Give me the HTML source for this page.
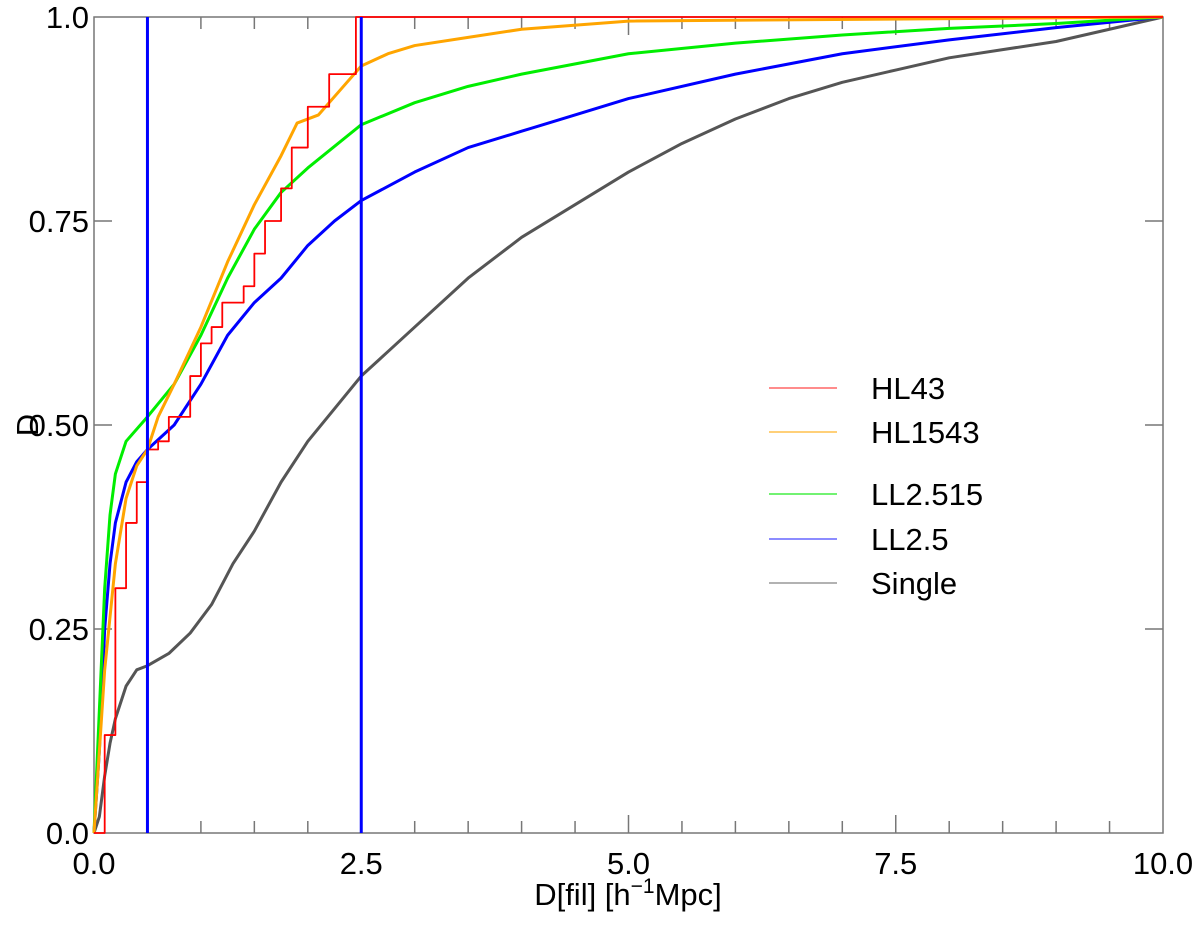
<!DOCTYPE html>
<html><head><meta charset="utf-8"><style>
body{margin:0;background:#fff}
svg{display:block;font-family:"Liberation Sans",sans-serif}
</style></head><body>
<svg id="chart" width="1200" height="927" viewBox="0 0 1200 927" xmlns="http://www.w3.org/2000/svg">
<g id="grid"></g>
<g id="series"></g>
<g id="legend"></g>
</svg>
<script>
const xTicks=[0,2.5,5,7.5,10];
const xTickLabels=["0.0","2.5","5.0","7.5","10.0"];
const yTicks=[0,0.25,0.5,0.75,1];
const yTickLabels=["0.0","0.25","0.50","0.75","1.0"];
const vlines=[0.5,2.5];
const hl43X=[0,0.1,0.2,0.3,0.4,0.5,0.6,0.7,0.9,1.0,1.1,1.2,1.4,1.5,1.6,1.75,1.85,2.0,2.2,2.45,10];
const hl43Y=[0,0.12,0.3,0.38,0.43,0.47,0.48,0.51,0.56,0.6,0.62,0.65,0.67,0.71,0.75,0.79,0.84,0.89,0.93,1.0,1.0];
const hl1543X=[0,0.1,0.2,0.3,0.4,0.5,0.6,0.75,1.0,1.25,1.5,1.75,1.9,2.1,2.3,2.5,2.75,3.0,3.5,4,5,10];
const hl1543Y=[0,0.2,0.33,0.41,0.45,0.47,0.51,0.55,0.62,0.7,0.77,0.83,0.87,0.88,0.91,0.94,0.955,0.965,0.975,0.985,0.995,1];
const ll2515X=[0,0.05,0.1,0.15,0.2,0.3,0.5,0.75,1.0,1.25,1.5,1.75,2.0,2.5,3.0,3.5,4.0,5.0,6.0,7.0,8.0,9.0,10];
const ll2515Y=[0,0.15,0.3,0.39,0.44,0.48,0.51,0.55,0.61,0.68,0.74,0.785,0.815,0.868,0.895,0.915,0.93,0.955,0.968,0.978,0.986,0.992,1];
const ll25X=[0,0.05,0.1,0.15,0.2,0.3,0.4,0.5,0.75,1.0,1.25,1.5,1.75,2.0,2.25,2.5,3.0,3.5,4.0,4.5,5.0,6.0,7.0,8.0,9.0,10];
const ll25Y=[0,0.1,0.25,0.33,0.38,0.43,0.455,0.47,0.5,0.55,0.61,0.65,0.68,0.72,0.75,0.775,0.81,0.84,0.86,0.88,0.9,0.93,0.955,0.972,0.987,1];
const singleX=[0,0.05,0.1,0.15,0.2,0.3,0.4,0.5,0.7,0.9,1.1,1.3,1.5,1.75,2.0,2.25,2.5,2.75,3.0,3.5,4.0,4.5,5.0,5.5,6.0,6.5,7.0,7.5,8.0,8.5,9.0,9.5,10];
const singleY=[0,0.02,0.07,0.11,0.14,0.18,0.2,0.205,0.22,0.245,0.28,0.33,0.37,0.43,0.48,0.52,0.56,0.59,0.62,0.68,0.73,0.77,0.81,0.845,0.875,0.9,0.92,0.935,0.95,0.96,0.97,0.985,1];
const legendLabels=["HL43","HL1543","LL2.515","LL2.5","Single"];

const NS="http://www.w3.org/2000/svg";
const X0=94,X1=1163,Y0=833,Y1=17;
const sx=v=>X0+(X1-X0)*v/10;
const sy=v=>Y0-(Y0-Y1)*v;
function mk(tag,attrs,parent){const e=document.createElementNS(NS,tag);for(const k in attrs)e.setAttribute(k,attrs[k]);parent.appendChild(e);return e;}
const grid=document.getElementById('grid'),series=document.getElementById('series'),legend=document.getElementById('legend');

const frame=mk('rect',{x:X0,y:Y1,width:X1-X0,height:Y0-Y1,fill:'none',stroke:'#777','stroke-width':1.5},grid);


for(let i=1;i<20;i++){const v=i*0.5;
 const t=mk('line',{x1:sx(v),x2:sx(v),y1:Y0,y2:Y0-(i%5==0?18:12),stroke:'#777','stroke-width':1.5},grid);
 
 
 const t2=mk('line',{x1:sx(v),x2:sx(v),y1:Y1,y2:Y1+(i%5==0?18:12),stroke:'#777','stroke-width':1.5},grid);
 
 
}
xTicks.forEach((v,i)=>{
 const t=mk('text',{x:sx(v),y:874,'text-anchor':'middle','font-size':31},grid);t.textContent=xTickLabels[i];
 
 
});
yTicks.forEach((v,i)=>{
 if(v>0&&v<1){
  const a=mk('line',{x1:X0,x2:X0+18,y1:sy(v),y2:sy(v),stroke:'#777','stroke-width':1.5},grid);
  
  
  const b=mk('line',{x1:X1,x2:X1-18,y1:sy(v),y2:sy(v),stroke:'#777','stroke-width':1.5},grid);
  
  
 }
 const t=mk('text',{x:89,y:sy(v)+11,'text-anchor':'end','font-size':31},grid);t.textContent=yTickLabels[i];
 
 
});
const xt=mk('text',{x:628,y:905,'text-anchor':'middle','font-size':31},grid);
xt.innerHTML='D[fil] [h<tspan dy="-12" font-size="21">−1</tspan><tspan dy="12">Mpc]</tspan>';


const yt=mk('text',{x:0,y:0,'text-anchor':'middle','font-size':31,transform:'translate(38,425) rotate(-90)'},grid);
yt.textContent='D';



function pathFor(xs,ys,step){let d='M'+sx(xs[0])+' '+sy(ys[0]);
 for(let i=1;i<xs.length;i++){ if(step)d+=' L'+sx(xs[i])+' '+sy(ys[i-1]); d+=' L'+sx(xs[i])+' '+sy(ys[i]);} return d;}
const defs=[
 ['single-line',singleX,singleY,'#555',3,false],
 ['ll2-5-line',ll25X,ll25Y,'#0000ff',3,false],
 ['ll2-515-line',ll2515X,ll2515Y,'#00ee00',3,false],
 ['hl1543-line',hl1543X,hl1543Y,'#ffa500',3,false],
 ['hl43-line',hl43X,hl43Y,'#ff0000',1.8,true]
];
defs.forEach(d=>{
 const p=mk('path',{d:pathFor(d[1],d[2],d[5]),fill:'none',stroke:d[3],'stroke-width':d[4],'stroke-linejoin':'round'},series);
 
 
});
vlines.forEach(v=>{
 const l=mk('line',{x1:sx(v),x2:sx(v),y1:Y1,y2:Y0,stroke:'#0000ff','stroke-width':3},series);
 
 
});
const legColors=['#ff6666','#ffc04d','#44ee44','#6666ff','#999'];
const legY=[388,432,494,539,583];
legendLabels.forEach((s,i)=>{
 const l=mk('line',{x1:769,x2:837,y1:legY[i],y2:legY[i],stroke:legColors[i],'stroke-width':1.5},legend);
 
 
 const t=mk('text',{x:871,y:legY[i]+11,'font-size':31},legend);t.textContent=s;
 
 
});
</script>
</body></html>
